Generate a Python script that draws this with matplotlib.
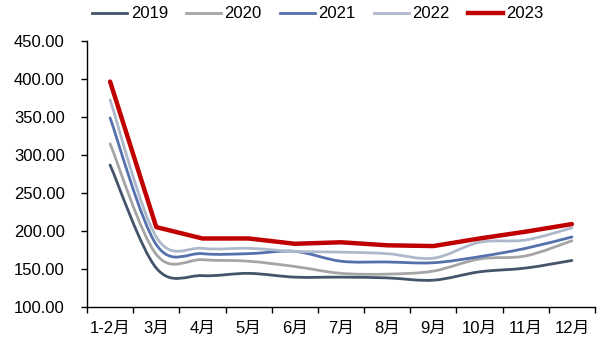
import numpy as np
import matplotlib
matplotlib.use("Agg")
import matplotlib.pyplot as plt
from matplotlib.path import Path
from matplotlib.patches import PathPatch
from matplotlib.lines import Line2D

plt.rcParams['font.family'] = ['Liberation Sans', 'Noto Sans CJK SC', 'DejaVu Sans']

months = ['1-2月', '3月', '4月', '5月', '6月', '7月', '8月', '9月', '10月', '11月', '12月']

y2019 = [287, 151, 141, 144, 139, 139, 138, 135, 146, 151, 161]
y2020 = [315, 169, 162, 160, 153, 144, 143, 147, 163, 167, 187]
y2021 = [349, 182, 170, 170, 173, 160, 159, 158, 166, 177, 192]
y2022 = [373, 192, 177, 177, 173, 172, 170, 164, 185, 188, 204]
y2023 = [397, 205, 190, 190, 183, 185, 181, 180, 190, 199, 209]

years = ['2019', '2020', '2021', '2022', '2023']
colors = ['#44546a', '#a5a5a5', '#5470ad', '#adb9ca', '#c00000']


def smooth_path(xs, ys):
    # cubic bezier through every point (spreadsheet style smoothed line)
    pts = np.column_stack([xs, ys]).astype(float)
    n = len(pts)
    verts = [pts[0]]
    codes = [Path.MOVETO]
    for i in range(n - 1):
        p0 = pts[max(i - 1, 0)]
        p1 = pts[i]
        p2 = pts[i + 1]
        p3 = pts[min(i + 2, n - 1)]
        c1 = p1 + (p2 - p0) / 6.0
        c2 = p2 - (p3 - p1) / 6.0
        verts += [c1, c2, p2]
        codes += [Path.CURVE4] * 3
    return Path(verts, codes)


fig = plt.figure(figsize=(6.09, 3.43), dpi=100)
ax = fig.add_axes([87 / 609, 1 - 306.7 / 343, (595 - 87) / 609, (306.7 - 41.4) / 343])

x = np.arange(len(months))
handles = []
for ys, c, name in zip([y2019, y2020, y2021, y2022], colors[:4], years[:4]):
    ax.add_patch(PathPatch(smooth_path(x, ys), facecolor='none', edgecolor=c,
                           lw=2.0, capstyle='round', joinstyle='round'))
    handles.append(Line2D([], [], color=c, lw=2.0, label=name))

ax.plot(x, y2023, color=colors[4], lw=3.2, solid_capstyle='round', solid_joinstyle='round')
handles.append(Line2D([], [], color=colors[4], lw=3.2, label=years[4]))

ax.set_xlim(-0.5, len(months) - 0.5)
ax.set_ylim(100, 450)
ax.set_yticks(np.arange(100, 451, 50))
ax.set_yticklabels([f'{v:.2f}' for v in np.arange(100, 451, 50)])

ax.set_xticks(np.arange(-0.5, len(months), 1.0))
ax.set_xticklabels([])
ax.set_xticks(x, minor=True)
ax.set_xticklabels(months, minor=True)

ax.tick_params(axis='y', direction='out', length=4, width=1, labelsize=12, pad=12)
ax.tick_params(axis='x', which='major', direction='out', length=4, width=1)
ax.tick_params(axis='x', which='minor', length=0, labelsize=12, pad=10)

for s in ['top', 'right']:
    ax.spines[s].set_visible(False)
for s in ['left', 'bottom']:
    ax.spines[s].set_linewidth(1.0)
    ax.spines[s].set_color('black')

fig.legend(handles=handles, loc='center', bbox_to_anchor=(318 / 609, 1 - 14 / 343),
           ncol=5, frameon=False, fontsize=12, handlelength=2.1, handletextpad=0.2,
           columnspacing=1.1)

fig.savefig('out.png', dpi=100)
